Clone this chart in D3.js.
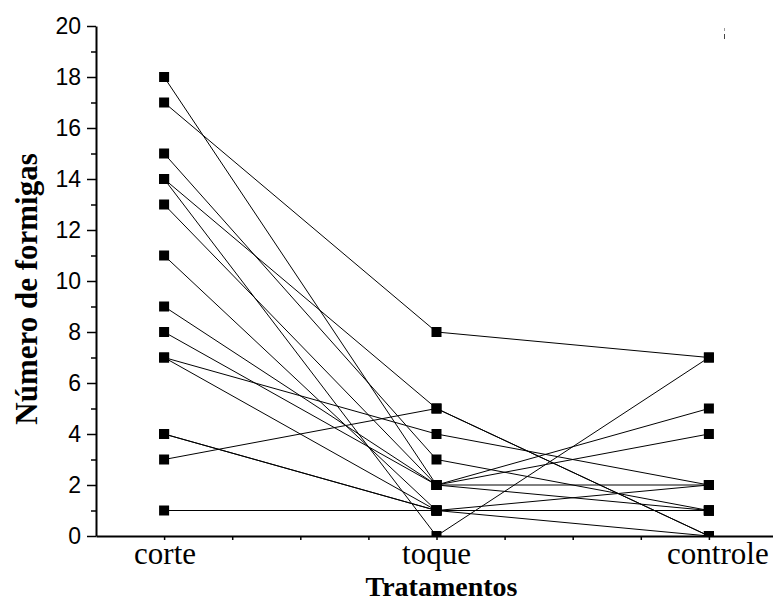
<!DOCTYPE html>
<html><head><meta charset="utf-8">
<script src="https://cdn.jsdelivr.net/npm/d3@7"></script>
<style>body{margin:0;background:#fff}</style>
</head><body>
<svg id="c" width="773" height="603"></svg>
<script>
// Categories and their positions on the x scale
const categories = ["corte", "toque", "controle"];
const categoryPos = [1, 5, 9];
// One entry per subject (same index across the three treatments)
const corte    = [18, 17, 15, 14, 14, 13, 11, 9, 8, 7, 7, 4, 4, 3, 1];
const toque    = [2,  8,  3,  0,  5,  2,  1,  2, 2, 4, 1, 1, 1, 5, 1];
const controle = [5,  7,  1,  7,  0,  4,  2,  2, 1, 2, 0, 1, 1, 0, 1];
const yMajorTicks = [0, 2, 4, 6, 8, 10, 12, 14, 16, 18, 20];
const yMinorTicks = [1, 3, 5, 7, 9, 11, 13, 15, 17, 19];
const xTicks = [1, 2, 3, 4, 5, 6, 7, 8, 9, 10];
const yTitle = "Número de formigas";
const xTitle = "Tratamentos";

const svg = d3.select("#c");
const W = 773, H = 603;
const x = d3.scaleLinear().domain([0, 10]).range([96, 777]);
const y = d3.scaleLinear().domain([0, 20]).range([536, 26]);

const series = [corte, toque, controle];
const subjects = corte.map((_, i) => series.map((s, j) => ({ cx: categoryPos[j], v: s[i] })));

svg.append("defs").append("clipPath").attr("id", "plotClip")
  .append("rect").attr("x", 96).attr("y", 0).attr("width", W - 96).attr("height", 536);

const plot = svg.append("g").attr("clip-path", "url(#plotClip)");
const line = d3.line().x(d => x(d.cx)).y(d => y(d.v));
plot.selectAll("path.subj").data(subjects).join("path")
  .attr("class", "subj")
  .attr("d", line)
  .attr("fill", "none")
  .attr("stroke", "#000")
  .attr("stroke-width", 1);

const pts = [];
series.forEach((s, j) => s.forEach(v => pts.push({ cx: categoryPos[j], v })));
const ms = 10;
plot.selectAll("rect.m").data(pts).join("rect")
  .attr("class", "m")
  .attr("x", d => x(d.cx) - ms / 2)
  .attr("y", d => y(d.v) - ms / 2)
  .attr("width", ms).attr("height", ms)
  .attr("fill", "#000");

// Y axis
const yAx = svg.append("g").attr("transform", `translate(${x(0)},0)`)
  .call(d3.axisLeft(y).tickValues(yMajorTicks).tickSize(9).tickSizeOuter(0).tickPadding(6));
yAx.select(".domain").attr("stroke-width", 2);
yAx.selectAll(".tick line").attr("stroke-width", 1.5);
yAx.selectAll(".tick text").attr("font-family", "'Liberation Sans', Arial, sans-serif")
  .attr("font-size", 23).attr("fill", "#000");
const yMin = svg.append("g").attr("transform", `translate(${x(0)},0)`)
  .call(d3.axisLeft(y).tickValues(yMinorTicks).tickSize(5).tickSizeOuter(0).tickFormat(""));
yMin.select(".domain").remove();
yMin.selectAll(".tick line").attr("stroke-width", 1.5);

// X axis
const xAx = svg.append("g").attr("transform", `translate(0,${y(0)})`)
  .call(d3.axisBottom(x).tickValues(xTicks).tickSize(4).tickSizeOuter(0).tickFormat(""));
xAx.select(".domain").attr("stroke-width", 2);
xAx.selectAll(".tick line").attr("stroke-width", 1.5);

// Category labels
const catShift = [1, 0, 9];
svg.selectAll("text.cat").data(categories).join("text")
  .attr("class", "cat")
  .attr("x", (d, i) => x(categoryPos[i]) + catShift[i])
  .attr("y", 564)
  .attr("text-anchor", "middle")
  .attr("font-family", "'Liberation Serif', 'Times New Roman', serif")
  .attr("font-size", 31)
  .text(d => d);

svg.append("text")
  .attr("x", x(5) + 5).attr("y", 596)
  .attr("text-anchor", "middle")
  .attr("font-family", "'Liberation Serif', 'Times New Roman', serif")
  .attr("font-weight", "bold")
  .attr("font-size", 28)
  .text(xTitle);

svg.append("text")
  .attr("transform", `translate(37,${(y(0) + y(20)) / 2 + 8}) rotate(-90)`)
  .attr("text-anchor", "middle")
  .attr("font-family", "'Liberation Serif', 'Times New Roman', serif")
  .attr("font-weight", "bold")
  .attr("font-size", 31)
  .text(yTitle);

// small stray marks at top right of the original
svg.append("line").attr("x1", 724.5).attr("x2", 724.5).attr("y1", 28).attr("y2", 31)
  .attr("stroke", "#999").attr("stroke-width", 1);
svg.append("line").attr("x1", 724.5).attr("x2", 724.5).attr("y1", 34).attr("y2", 39)
  .attr("stroke", "#444").attr("stroke-width", 1);
</script>
</body></html>
